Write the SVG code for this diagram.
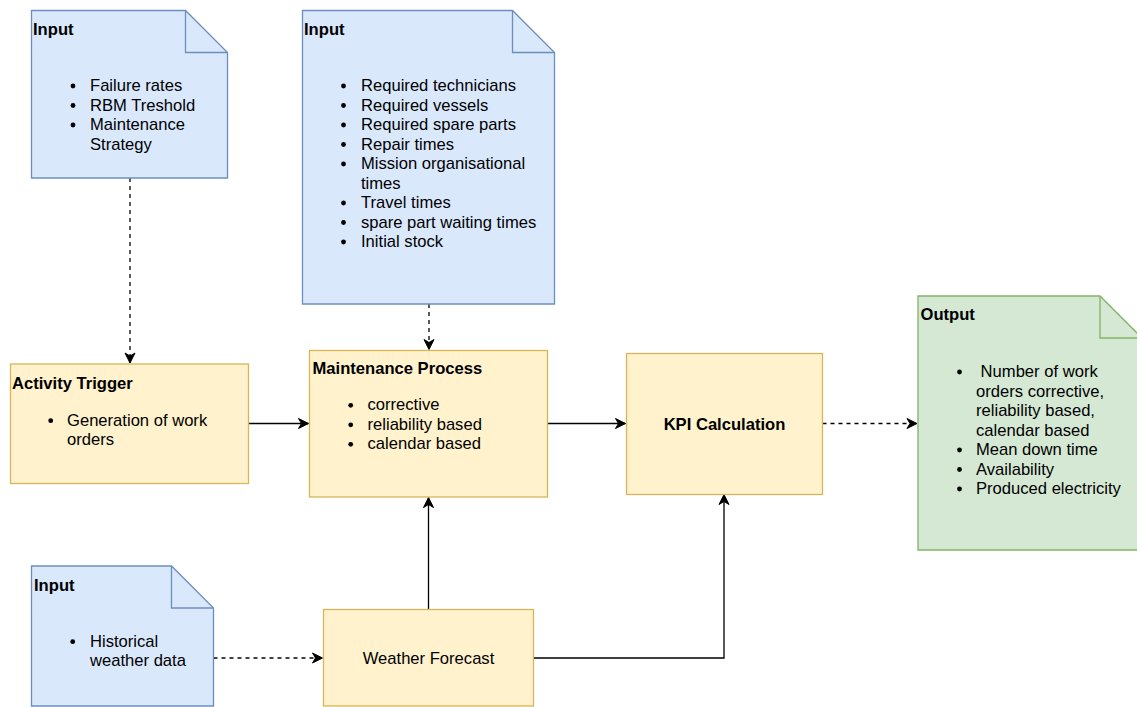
<svg xmlns="http://www.w3.org/2000/svg" width="1137" height="707" viewBox="0 0 1137 707">
  <style>
    text { font-family: "Liberation Sans", Arial, Helvetica, sans-serif; font-size: 16.6px; fill: #000000; }
    .title { font-weight: bold; }
    .center { text-anchor: middle; }
    .doc { fill: #dae8fc; stroke: #6c8ebf; stroke-width: 1.3; }
    .out { fill: #d5e8d4; stroke: #82b366; stroke-width: 1.3; }
    .proc { fill: #fff2cc; stroke: #d6b656; stroke-width: 1.3; }
    .fold { fill: none; }
    .bullet { fill: #000000; stroke: none; }
    .edge { fill: none; stroke: #000000; stroke-width: 1.3; }
    .dashed { stroke-dasharray: 4 4; }
  </style>
  <defs>
    <marker id="arrow" viewBox="-11 -6 12 12" refX="0" refY="0" markerWidth="12" markerHeight="12" markerUnits="userSpaceOnUse" orient="auto">
      <path d="M0,0 L-10,-5 L-7,0 L-10,5 Z" fill="#000000" stroke="#000000" stroke-width="1" stroke-linejoin="miter"/>
    </marker>
  </defs>

  <!-- connectors -->
  <g id="connectors">
    <path class="edge dashed" d="M130,178 V363" marker-end="url(#arrow)"/>
    <path class="edge dashed" d="M429,304 V349.5" marker-end="url(#arrow)"/>
    <path class="edge" d="M248.5,423.5 H308.5" marker-end="url(#arrow)"/>
    <path class="edge" d="M547.5,423.5 H625.5" marker-end="url(#arrow)"/>
    <path class="edge dashed" d="M822.5,423.5 H917" marker-end="url(#arrow)"/>
    <path class="edge dashed" d="M213.5,658 H322.5" marker-end="url(#arrow)"/>
    <path class="edge" d="M428.5,609.5 V497.5" marker-end="url(#arrow)"/>
    <path class="edge" d="M533.5,658 H724 V494.5" marker-end="url(#arrow)"/>
  </g>

  <!-- input: failure data -->
  <g id="input-failure">
    <path class="doc" d="M31.5,10.5 H185.5 L227.5,52.5 V178 H31.5 Z"/>
    <path class="doc fold" d="M185.5,10.5 V52.5 H227.5"/>
    <text class="title" x="33" y="35">Input</text>
    <circle class="bullet" cx="73" cy="86" r="2.4"/>
    <text x="90" y="91">Failure rates</text>
    <circle class="bullet" cx="73" cy="105.5" r="2.4"/>
    <text x="90" y="110.5">RBM Treshold</text>
    <circle class="bullet" cx="73" cy="125" r="2.4"/>
    <text x="90" y="130">Maintenance</text>
    <text x="90" y="149.5">Strategy</text>
  </g>

  <!-- input: resources -->
  <g id="input-resources">
    <path class="doc" d="M302.5,10.5 H512.5 L554.5,52.5 V304 H302.5 Z"/>
    <path class="doc fold" d="M512.5,10.5 V52.5 H554.5"/>
    <text class="title" x="304" y="35">Input</text>
    <circle class="bullet" cx="343.5" cy="86" r="2.4"/>
    <text x="361" y="91">Required technicians</text>
    <circle class="bullet" cx="343.5" cy="105.5" r="2.4"/>
    <text x="361" y="110.5">Required vessels</text>
    <circle class="bullet" cx="343.5" cy="125" r="2.4"/>
    <text x="361" y="130">Required spare parts</text>
    <circle class="bullet" cx="343.5" cy="144.5" r="2.4"/>
    <text x="361" y="149.5">Repair times</text>
    <circle class="bullet" cx="343.5" cy="164" r="2.4"/>
    <text x="361" y="169">Mission organisational</text>
    <text x="361" y="188.5">times</text>
    <circle class="bullet" cx="343.5" cy="203" r="2.4"/>
    <text x="361" y="208">Travel times</text>
    <circle class="bullet" cx="343.5" cy="222.5" r="2.4"/>
    <text x="361" y="227.5">spare part waiting times</text>
    <circle class="bullet" cx="343.5" cy="242" r="2.4"/>
    <text x="361" y="247">Initial stock</text>
  </g>

  <!-- activity trigger -->
  <g id="activity-trigger">
    <rect class="proc" x="10.5" y="364" width="238" height="119.5"/>
    <text class="title" x="12" y="388.5">Activity Trigger</text>
    <circle class="bullet" cx="50.7" cy="420.7" r="2.4"/>
    <text x="67" y="425.7">Generation of work</text>
    <text x="67" y="445.2">orders</text>
  </g>

  <!-- maintenance process -->
  <g id="maintenance-process">
    <rect class="proc" x="309.5" y="350.5" width="238" height="146.5"/>
    <text class="title" x="312.5" y="374">Maintenance Process</text>
    <circle class="bullet" cx="350.7" cy="405.3" r="2.4"/>
    <text x="367.5" y="410.3">corrective</text>
    <circle class="bullet" cx="350.7" cy="424.8" r="2.4"/>
    <text x="367.5" y="429.8">reliability based</text>
    <circle class="bullet" cx="350.7" cy="444.3" r="2.4"/>
    <text x="367.5" y="449.3">calendar based</text>
  </g>

  <!-- KPI calculation -->
  <g id="kpi-calculation">
    <rect class="proc" x="626.5" y="353.5" width="196" height="141"/>
    <text class="title center" x="724.5" y="430">KPI Calculation</text>
  </g>

  <!-- output -->
  <g id="output">
    <path class="out" d="M918,296 H1100 L1142,338 V550 H918 Z"/>
    <path class="out fold" d="M1100,296 V338 H1142"/>
    <text class="title" x="920.5" y="320">Output</text>
    <circle class="bullet" cx="959.5" cy="372" r="2.4"/>
    <text x="976" y="377" xml:space="preserve"> Number of work</text>
    <text x="976" y="396.5">orders corrective,</text>
    <text x="976" y="416">reliability based,</text>
    <text x="976" y="435.5">calendar based</text>
    <circle class="bullet" cx="959.5" cy="450" r="2.4"/>
    <text x="976" y="455">Mean down time</text>
    <circle class="bullet" cx="959.5" cy="469.5" r="2.4"/>
    <text x="976" y="474.5">Availability</text>
    <circle class="bullet" cx="959.5" cy="489" r="2.4"/>
    <text x="976" y="494">Produced electricity</text>
  </g>

  <!-- input: weather history -->
  <g id="input-weather">
    <path class="doc" d="M31.5,566 H171.5 L213.5,608 V706 H31.5 Z"/>
    <path class="doc fold" d="M171.5,566 V608 H213.5"/>
    <text class="title" x="34" y="591">Input</text>
    <circle class="bullet" cx="72.7" cy="641.7" r="2.4"/>
    <text x="90" y="646.7">Historical</text>
    <text x="90" y="666.2">weather data</text>
  </g>

  <!-- weather forecast -->
  <g id="weather-forecast">
    <rect class="proc" x="323.5" y="609.5" width="210" height="96.5"/>
    <text class="center" x="428.5" y="663.5">Weather Forecast</text>
  </g>
</svg>
